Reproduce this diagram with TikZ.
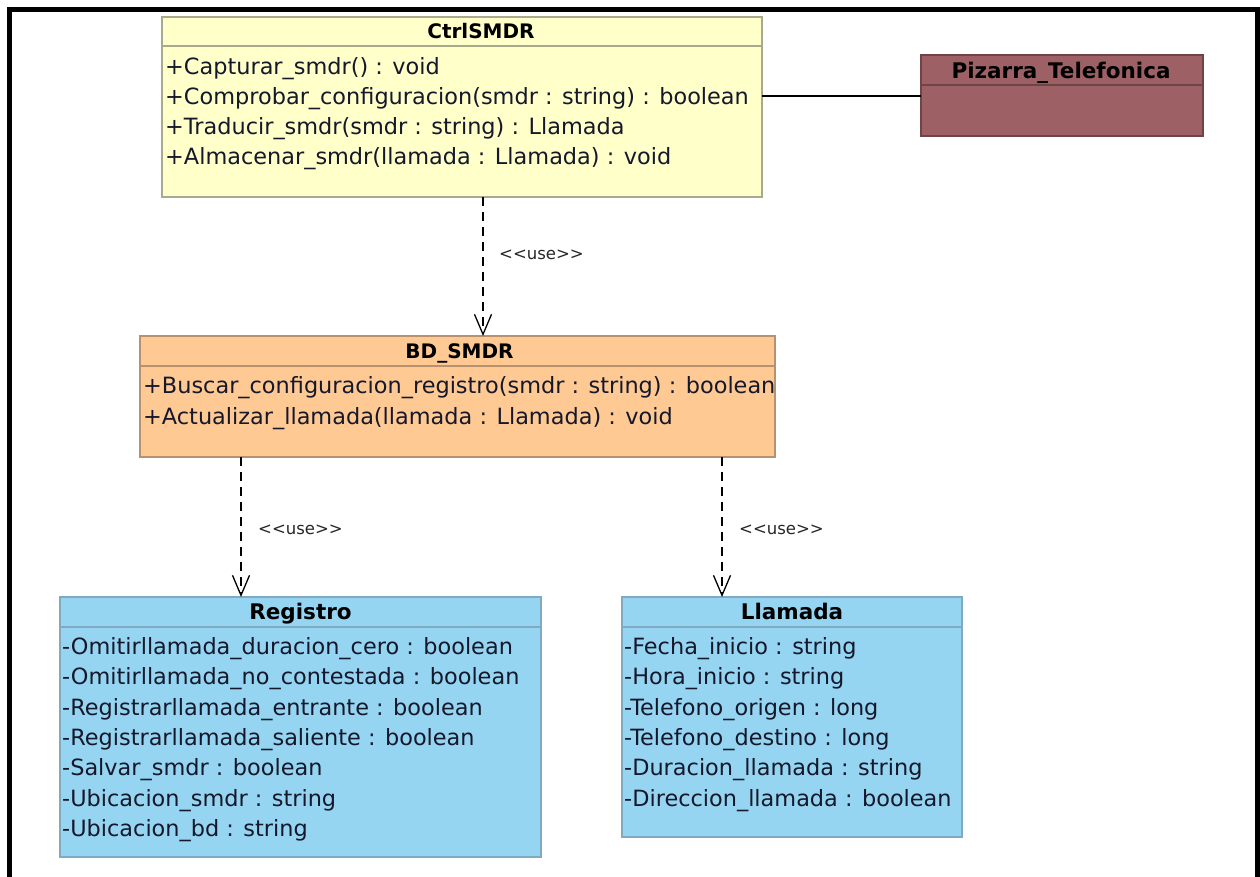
\documentclass[tikz,border=0pt]{standalone}
\usepackage{fontspec}
\setmainfont{DejaVu Sans}
\usetikzlibrary{arrows.meta,calc}

\definecolor{ctrlfill}{HTML}{FFFFCA}
\definecolor{ctrldraw}{HTML}{A9A98E}
\definecolor{pizfill}{HTML}{9D6064}
\definecolor{pizdraw}{HTML}{6E4447}
\definecolor{bdfill}{HTML}{FFC994}
\definecolor{bddraw}{HTML}{B8926E}
\definecolor{entfill}{HTML}{95D5F2}
\definecolor{entdraw}{HTML}{7FAAC2}
\definecolor{membertext}{HTML}{15182A}

\begin{document}
\begin{tikzpicture}[x=1pt,y=-1pt,
  classbox/.style={rectangle, draw=#1, line width=1.5pt, anchor=north west,
                   inner sep=0pt, outer sep=0pt},
  septor/.style={draw=#1, line width=1.2pt},
  ctitle/.style={font=\fontsize{21.5}{24}\bfseries\selectfont, text=black,
                 anchor=base, inner sep=0pt},
  capstitle/.style={ctitle, font=\fontsize{20}{22}\bfseries\selectfont},
  member/.style={font=\fontsize{22.4}{26}\selectfont, text=membertext,
                 anchor=base west, inner sep=0pt},
  stereo/.style={font=\fontsize{16.5}{19}\selectfont, text=black!85,
                 anchor=west, inner sep=0pt},
  usedep/.style={draw=black, line width=1.3pt, dash pattern=on 9pt off 6pt,
                 -{Straight Barb[length=20pt,width=17pt,line width=1.3pt]}},
]
\useasboundingbox (0,0) rectangle (1260,877);

% outer frame, open at the bottom
\draw[line width=5pt] (9.5,877) -- (9.5,9.5) -- (1257.5,9.5) -- (1257.5,877);

% ---------- CtrlSMDR ----------
\node[classbox=ctrldraw, fill=ctrlfill, minimum width=600pt, minimum height=180pt]
  (ctrl) at (162,17) {};
\draw[septor=ctrldraw] ($(ctrl.north west)+(0,29)$) -- ($(ctrl.north east)+(0,29)$);
\node[capstitle] (ctrlT) at ($(ctrl.north)+(19,21.5)$) {CtrlSMDR};
\node[member] (ctrl1) at ($(ctrl.north west)+(3,57.5)$) {+Capturar\_smdr() : void};
\node[member] (ctrl2) at ($(ctrl.north west)+(3,88)$) {+Comprobar\_configuracion(smdr : string) : boolean};
\node[member] (ctrl3) at ($(ctrl.north west)+(3,117.5)$) {+Traducir\_smdr(smdr : string) : Llamada};
\node[member] (ctrl4) at ($(ctrl.north west)+(3,147.5)$) {+Almacenar\_smdr(llamada : Llamada) : void};

% ---------- Pizarra_Telefonica ----------
\node[classbox=pizdraw, fill=pizfill, minimum width=282pt, minimum height=81pt]
  (piz) at (921,55) {};
\draw[septor=pizdraw] ($(piz.north west)+(0,30)$) -- ($(piz.north east)+(0,30)$);
\node[ctitle] (pizT) at ($(piz.north)+(-1,24)$) {Pizarra\_Telefonica};

% ---------- BD_SMDR ----------
\node[classbox=bddraw, fill=bdfill, minimum width=635pt, minimum height=121pt]
  (bd) at (140,336) {};
\draw[septor=bddraw] ($(bd.north west)+(0,30)$) -- ($(bd.north east)+(0,30)$);
\node[capstitle] (bdT) at ($(bd.north)+(2,22.5)$) {BD\_SMDR};
\node[member] (bd1) at ($(bd.north west)+(3,57.5)$) {+Buscar\_configuracion\_registro(smdr : string) : boolean};
\node[member] (bd2) at ($(bd.north west)+(3,88)$) {+Actualizar\_llamada(llamada : Llamada) : void};

% ---------- Registro ----------
\node[classbox=entdraw, fill=entfill, minimum width=481pt, minimum height=260pt]
  (reg) at (60,597) {};
\draw[septor=entdraw] ($(reg.north west)+(0,30)$) -- ($(reg.north east)+(0,30)$);
\node[ctitle] (regT) at ($(reg.north)+(0,22.5)$) {Registro};
\node[member] (reg1) at ($(reg.north west)+(2,57.5)$) {-Omitirllamada\_duracion\_cero : boolean};
\node[member] (reg2) at ($(reg.north west)+(2,87.8)$) {-Omitirllamada\_no\_contestada : boolean};
\node[member] (reg3) at ($(reg.north west)+(2,118.1)$) {-Registrarllamada\_entrante : boolean};
\node[member] (reg4) at ($(reg.north west)+(2,148.4)$) {-Registrarllamada\_saliente : boolean};
\node[member] (reg5) at ($(reg.north west)+(2,178.7)$) {-Salvar\_smdr : boolean};
\node[member] (reg6) at ($(reg.north west)+(2,209)$) {-Ubicacion\_smdr : string};
\node[member] (reg7) at ($(reg.north west)+(2,239.3)$) {-Ubicacion\_bd : string};

% ---------- Llamada ----------
\node[classbox=entdraw, fill=entfill, minimum width=340pt, minimum height=240pt]
  (lla) at (622,597) {};
\draw[septor=entdraw] ($(lla.north west)+(0,30)$) -- ($(lla.north east)+(0,30)$);
\node[ctitle] (llaT) at ($(lla.north)+(0,22.5)$) {Llamada};
\node[member] (lla1) at ($(lla.north west)+(2,57.5)$) {-Fecha\_inicio : string};
\node[member] (lla2) at ($(lla.north west)+(2,87.8)$) {-Hora\_inicio : string};
\node[member] (lla3) at ($(lla.north west)+(2,118.1)$) {-Telefono\_origen : long};
\node[member] (lla4) at ($(lla.north west)+(2,148.4)$) {-Telefono\_destino : long};
\node[member] (lla5) at ($(lla.north west)+(2,178.7)$) {-Duracion\_llamada : string};
\node[member] (lla6) at ($(lla.north west)+(2,209)$) {-Direccion\_llamada : boolean};

% ---------- connectors ----------
\draw[line width=1.4pt] (piz.west |- 0,96) -- (ctrl.east |- 0,96);

\coordinate (ua) at (483,0);
\coordinate (ub) at (241,0);
\coordinate (uc) at (722,0);
\draw[usedep] (ctrl.south -| ua) -- (bd.north -| ua);
\draw[usedep] (bd.south -| ub) -- (reg.north -| ub);
\draw[usedep] (bd.south -| uc) -- (lla.north -| uc);

\node[stereo] (s1) at (499,255) {<\kern0pt<use>\kern0pt>};
\node[stereo] (s2) at (258,530) {<\kern0pt<use>\kern0pt>};
\node[stereo] (s3) at (739,530) {<\kern0pt<use>\kern0pt>};
\end{tikzpicture}
\end{document}
